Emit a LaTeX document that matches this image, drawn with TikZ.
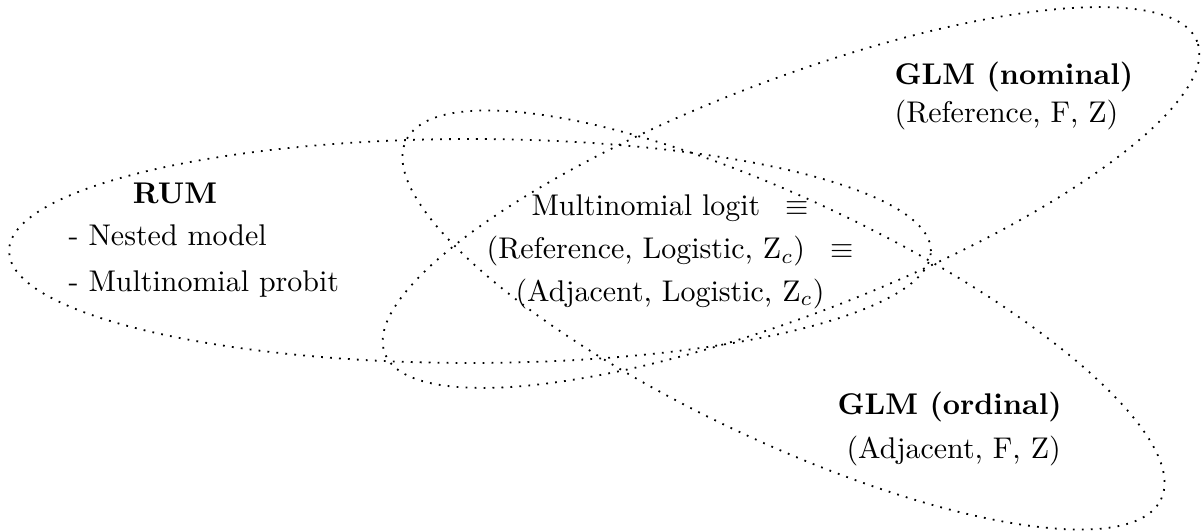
\documentclass[tikz,border=0pt]{standalone}
\usepackage{amsmath,amssymb}
\usepackage{tikz}
\usetikzlibrary{shapes.geometric}

\begin{document}
\begin{tikzpicture}[x=0.334pt,y=-0.334pt,
  set/.style={draw,ellipse,inner sep=0pt,line width=0.6pt,dash pattern=on 0.6pt off 2.4pt},
  lbl/.style={inner sep=0pt,align=left},
  mid/.style={inner sep=0pt,align=center}]
\useasboundingbox (0,0) rectangle (1203,531);
% the three model families
\node[set,minimum width=307.9pt,minimum height=74.8pt] (rum) at (470,251) {};
\node[set,minimum width=290.6pt,minimum height=78.2pt,rotate=21] (nom) at (791,197.5) {};
\node[set,minimum width=279.2pt,minimum height=80.2pt,rotate=-25.4] (ord) at (783.5,320) {};
% labels
\node[lbl] (rumt) at (175,193) {\textbf{RUM}};
\node[lbl,anchor=west] (ruml) at (68,261) {- Nested model\\[3.2pt]- Multinomial probit};
\node[mid] (mnl) at (670,252) {Multinomial logit~~\,$\equiv$\\[2.3pt](Reference, Logistic, Z$_c$)~~\,$\equiv$\\[2.3pt](Adjacent, Logistic, Z$_c$)};
\node[lbl,anchor=west] (noml) at (894,96) {\textbf{GLM (nominal)}\\[0.5pt](Reference, F, Z)};
\node[lbl,anchor=west] (ordl) at (837,429) {\textbf{GLM (ordinal)}\\[2.8pt]\hspace*{3pt}(Adjacent, F, Z)};
\end{tikzpicture}
\end{document}
